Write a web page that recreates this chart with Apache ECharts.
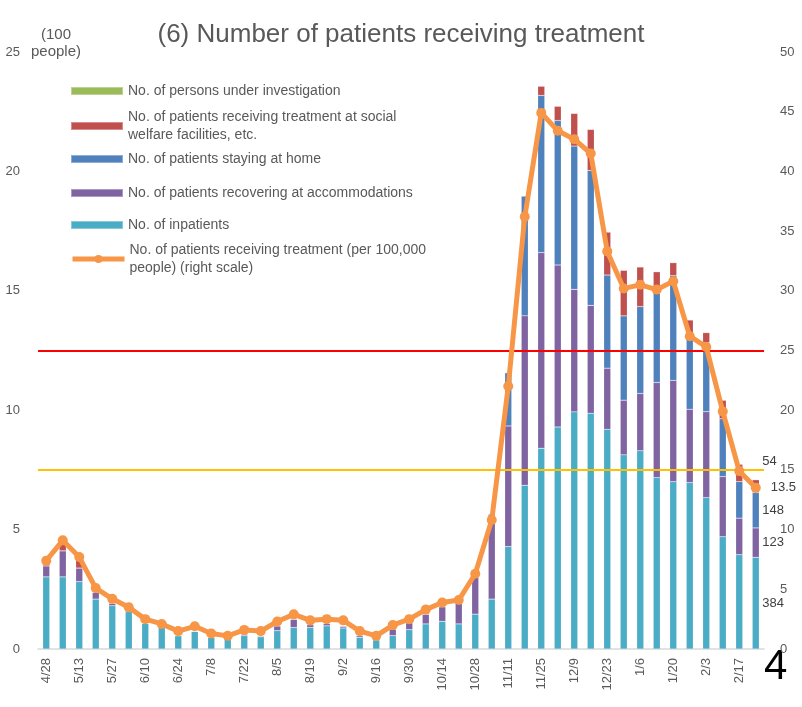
<!DOCTYPE html>
<html>
<head>
<meta charset="utf-8">
<script src="https://cdn.jsdelivr.net/npm/echarts@6/dist/echarts.min.js"></script>
<style>
  html, body { margin: 0; padding: 0; background: #fff; }
  #chart { width: 802px; height: 707px; }
</style>
</head>
<body>
<div id="chart"></div>
<script>
  // weekly dates (every other label is shown)
  const dates = ['4/28', '5/6', '5/13', '5/20', '5/27', '6/3', '6/10', '6/17', '6/24', '7/1',
    '7/8', '7/15', '7/22', '7/29', '8/5', '8/12', '8/19', '8/26', '9/2', '9/9',
    '9/16', '9/23', '9/30', '10/7', '10/14', '10/21', '10/28', '11/4', '11/11', '11/18',
    '11/25', '12/2', '12/9', '12/16', '12/23', '12/30', '1/6', '1/13', '1/20', '1/27',
    '2/3', '2/10', '2/17', '2/24']

  // left scale, in units of 100 people
  const inpatients = [3.02, 3.02, 2.82, 2.09, 1.81, 1.56, 1.07, 0.9, 0.56, 0.74,
    0.49, 0.44, 0.56, 0.51, 0.77, 0.9, 0.9, 0.97, 0.88, 0.49,
    0.38, 0.56, 0.81, 1.05, 1.16, 1.05, 1.46, 2.09, 4.29, 6.86,
    8.41, 9.3, 9.93, 9.87, 9.2, 8.13, 8.3, 7.18, 7.01, 6.97,
    6.34, 4.7, 3.95, 3.84]
  const accommodations = [0.46, 1.09, 0.57, 0.28, 0.1, 0.06, 0, 0.02, 0, 0,
    0, 0, 0.07, 0.04, 0.2, 0.35, 0.12, 0.1, 0.08, 0.07,
    0.02, 0.28, 0.29, 0.41, 0.61, 0.9, 1.54, 3.53, 5.05, 7.09,
    8.19, 6.78, 5.13, 4.52, 2.56, 2.29, 2.4, 3.98, 4.24, 3.07,
    3.6, 2.52, 1.53, 1.23]
  const atHome = [0, 0, 0, 0, 0, 0, 0, 0, 0, 0,
    0, 0, 0, 0, 0, 0, 0, 0, 0, 0,
    0, 0, 0, 0, 0, 0, 0, 0.05, 2.23, 5.02,
    6.58, 6.05, 6.0, 5.65, 3.9, 3.53, 3.64, 3.84, 4.38, 3.06,
    2.89, 2.42, 1.53, 1.48]
  const welfare = [0.08, 0.3, 0.33, 0, 0.03, 0, 0, 0, 0, 0,
    0, 0, 0, 0, 0, 0, 0, 0, 0, 0,
    0, 0, 0, 0, 0, 0, 0, 0, 0, 0,
    0.39, 0.6, 1.37, 1.72, 1.8, 1.91, 1.66, 0.8, 0.55, 0.68,
    0.42, 0.78, 0.73, 0.54]
  const investigation = [0.04, 0.2, 0, 0, 0, 0, 0, 0, 0, 0,
    0, 0, 0, 0, 0, 0, 0, 0, 0, 0,
    0, 0, 0, 0, 0, 0, 0, 0, 0, 0,
    0, 0, 0, 0, 0, 0, 0, 0, 0, 0,
    0, 0, 0, 0]
  // right scale, per 100,000 people
  const per100k = [7.4, 9.1, 7.7, 5.1, 4.2, 3.5, 2.5, 2.1, 1.5, 1.9,
    1.3, 1.1, 1.6, 1.5, 2.3, 2.9, 2.4, 2.5, 2.4, 1.5,
    1.1, 2.0, 2.5, 3.3, 3.9, 4.1, 6.3, 10.8, 22.0, 36.2,
    44.9, 43.4, 42.7, 41.5, 33.3, 30.2, 30.5, 30.1, 30.8, 26.2,
    25.3, 19.9, 14.9, 13.5]

  const leftTicks = [0, 25, 5]
  const rightTicks = [0, 50, 5]
  const thresholds = [25, 15]

  const FONT = "'Liberation Sans', Arial, sans-serif"
  const GREY = '#595959'
  const last = dates.length - 1

  const names = {
    inv: 'No. of persons under investigation',
    wel: 'No. of patients receiving treatment at social welfare facilities, etc.',
    home: 'No. of patients staying at home',
    acc: 'No. of patients recovering at accommodations',
    inp: 'No. of inpatients',
    line: 'No. of patients receiving treatment (per 100,000 people) (right scale)'
  }

  // show a data label only on the last bar
  function lastLabel(arr, extra) {
    return arr.map((v, i) => {
      if (i !== last) return v
      return {
        value: v,
        label: Object.assign({
          show: true,
          position: 'right',
          distance: 3,
          color: '#404040',
          fontSize: 13,
          fontFamily: FONT,
          formatter: p => Math.round(p.value * 100)
        }, extra || {})
      }
    })
  }

  function barSeries(name, data, color, extra) {
    return {
      name: name,
      type: 'bar',
      stack: 'total',
      barWidth: 7,
      itemStyle: { color: color, borderColor: 'rgba(255,255,255,0.35)', borderWidth: 0.5 },
      data: extra === false ? data : lastLabel(data, extra)
    }
  }

  function legendAt(name, top, fmt) {
    const isLine = name === names.line
    return {
      data: [name],
      left: 70,
      top: top,
      padding: 0,
      itemWidth: 52,
      itemHeight: isLine ? 10 : 8,
      itemGap: 0,
      icon: isLine ? undefined : 'rect',
      lineStyle: isLine ? { width: 5 } : undefined,
      selectedMode: false,
      formatter: fmt || '{name}',
      textStyle: { color: GREY, fontSize: 14, fontFamily: FONT, lineHeight: 18 }
    }
  }

  const chart = echarts.init(document.getElementById('chart'))

  chart.setOption({
    animation: false,
    backgroundColor: '#fff',
    title: {
      text: '(6) Number of patients receiving treatment',
      left: 'center',
      top: 17,
      textStyle: { color: GREY, fontSize: 26, fontWeight: 'normal', fontFamily: FONT }
    },
    legend: [
      legendAt(names.inv, 82),
      legendAt(names.wel, 108, 'No. of patients receiving treatment at social\nwelfare facilities, etc.'),
      legendAt(names.home, 150),
      legendAt(names.acc, 184),
      legendAt(names.inp, 216),
      legendAt(names.line, 241, 'No. of patients receiving treatment (per 100,000\npeople) (right scale)')
    ],
    grid: { left: 38, right: 38, top: 52, bottom: 58 },
    xAxis: {
      type: 'category',
      data: dates,
      axisLine: { lineStyle: { color: '#D9D9D9', width: 1.5 } },
      axisTick: { show: false },
      axisLabel: {
        interval: 1,
        rotate: 90,
        margin: 9,
        color: GREY,
        fontSize: 13,
        fontFamily: FONT
      }
    },
    yAxis: [
      {
        type: 'value',
        min: leftTicks[0],
        max: leftTicks[1],
        interval: leftTicks[2],
        axisLine: { show: false },
        axisTick: { show: false },
        splitLine: { show: false },
        axisLabel: { color: GREY, fontSize: 13, fontFamily: FONT, margin: 18 }
      },
      {
        type: 'value',
        min: rightTicks[0],
        max: rightTicks[1],
        interval: rightTicks[2],
        axisLine: { show: false },
        axisTick: { show: false },
        splitLine: { show: false },
        axisLabel: { color: GREY, fontSize: 13, fontFamily: FONT, margin: 16 }
      }
    ],
    series: [
      barSeries(names.inp, inpatients, '#4BACC6'),
      barSeries(names.acc, accommodations, '#8064A2'),
      barSeries(names.home, atHome, '#4F81BD'),
      barSeries(names.wel, welfare, '#C0504D', { offset: [0, -25] }),
      barSeries(names.inv, investigation, '#9BBB59', false),
      {
        name: names.line,
        type: 'line',
        yAxisIndex: 1,
        symbol: 'circle',
        symbolSize: 10,
        z: 5,
        itemStyle: { color: '#F79646' },
        lineStyle: { color: '#F79646', width: 5 },
        data: per100k.map((v, i) => i !== last ? v : {
          value: v,
          label: {
            show: true,
            position: 'right',
            distance: 10,
            color: '#404040',
            fontSize: 13,
            fontFamily: FONT
          }
        }),
        markLine: {
          silent: true,
          symbol: 'none',
          label: { show: false },
          data: [
            { yAxis: thresholds[0], lineStyle: { color: '#FF0000', width: 2, type: 'solid' } },
            { yAxis: thresholds[1], lineStyle: { color: '#FFC000', width: 2, type: 'solid' } }
          ]
        }
      }
    ],
    graphic: [
      {
        type: 'text',
        x: 56,
        y: 26,
        style: {
          text: '(100\npeople)',
          fill: GREY,
          font: '15px ' + FONT,
          align: 'center',
          lineHeight: 17
        }
      },
      {
        type: 'text',
        left: 764,
        top: 646,
        style: { text: '4', fill: '#000', font: '42px ' + FONT }
      }
    ]
  })
</script>
</body>
</html>
